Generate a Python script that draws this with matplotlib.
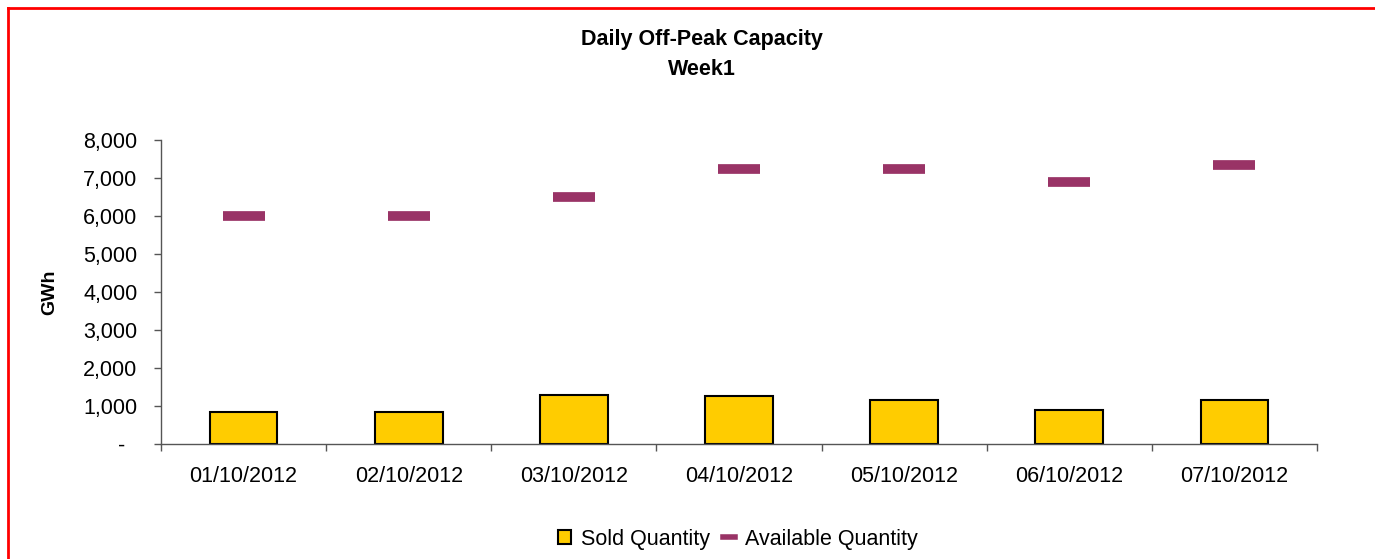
import numpy as np
import matplotlib
matplotlib.use("Agg")
import matplotlib.pyplot as plt
from matplotlib.lines import Line2D
from matplotlib.patches import Patch
from matplotlib.ticker import FuncFormatter, FixedLocator

plt.rcParams['font.family'] = ['Liberation Sans', 'DejaVu Sans']

# data
dates = ['01/10/2012', '02/10/2012', '03/10/2012', '04/10/2012',
         '05/10/2012', '06/10/2012', '07/10/2012']
sold_qty = [840, 840, 1300, 1265, 1150, 890, 1150]
available_qty = [6000, 6000, 6500, 7250, 7250, 6900, 7350]

bar_color = '#FFCC00'
avail_color = '#993366'

fig = plt.figure(figsize=(13.75, 5.59), dpi=100)
ax = fig.add_axes([161 / 1375, 1 - 444 / 559, (1317 - 161) / 1375, (444 - 140) / 559])

x = np.arange(len(dates))
ax.bar(x, sold_qty, width=0.41, color=bar_color, edgecolor='black', linewidth=1.5, zorder=2)
ax.plot(x, available_qty, linestyle='none', marker='_', markersize=30,
        markeredgewidth=7, color=avail_color, zorder=3)

ax.set_xlim(-0.5, len(dates) - 0.5)
ax.set_ylim(0, 8000)
ax.set_yticks(np.arange(0, 8001, 1000))
ax.yaxis.set_major_formatter(FuncFormatter(lambda v, p: '-  ' if v == 0 else f'{int(v):,}'))

ax.set_xticks(x)
ax.set_xticklabels(dates)
ax.xaxis.set_minor_locator(FixedLocator(np.arange(-0.5, len(dates), 1.0)))
ax.tick_params(axis='x', which='major', length=0, pad=16, labelsize=15.5)
ax.tick_params(axis='x', which='minor', length=5, width=1, color='#555555')
ax.tick_params(axis='y', length=5, width=1, color='#555555', pad=12, labelsize=15.5)

for side in ['top', 'right']:
    ax.spines[side].set_visible(False)
for side in ['left', 'bottom']:
    ax.spines[side].set_color('#555555')
    ax.spines[side].set_linewidth(1.0)

ax.set_ylabel('GWh', fontsize=14, fontweight='bold')
ax.yaxis.set_label_coords((58 - 161) / 1156, 0.5)

fig.text(702 / 1375, 1 - 40 / 559, 'Daily Off-Peak Capacity', ha='center', va='center',
         fontsize=15.5, fontweight='bold')
fig.text(702 / 1375, 1 - 70 / 559, 'Week1', ha='center', va='center',
         fontsize=15.5, fontweight='bold')

handles = [Patch(facecolor=bar_color, edgecolor='black', linewidth=1.5),
           Line2D([], [], color=avail_color, linewidth=4)]
fig.legend(handles, ['Sold Quantity', 'Available Quantity'], loc='center',
           bbox_to_anchor=(738 / 1375, 1 - 539 / 559), ncol=2, frameon=False,
           fontsize=15.5, handlelength=0.6, handleheight=0.6, handletextpad=0.45,
           columnspacing=0.6)

# red frame (top and left edges visible in the source)
fig.add_artist(Line2D([8 / 1375, 8 / 1375], [0, 1 - 8 / 559], color='red', linewidth=2))
fig.add_artist(Line2D([8 / 1375, 1], [1 - 8 / 559, 1 - 8 / 559], color='red', linewidth=2))

fig.savefig('out.png', dpi=100)
